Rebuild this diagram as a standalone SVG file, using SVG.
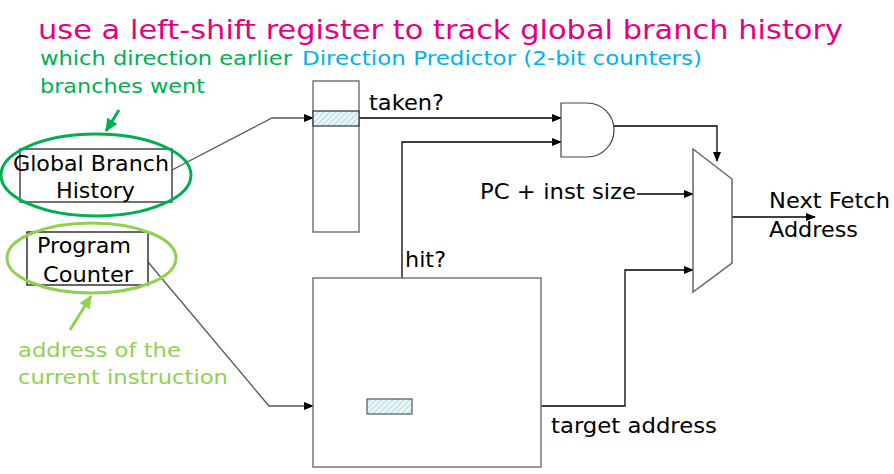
<svg xmlns="http://www.w3.org/2000/svg" width="894" height="474" viewBox="0 0 894 474">
<style>
text{font-family:"DejaVu Sans","Liberation Sans",sans-serif}
.t{fill:#000;font-size:22px}
.box{fill:#fff;stroke:#777;stroke-width:1.5}
.w{fill:none;stroke:#000;stroke-width:1.3}
.g{fill:none;stroke:#555;stroke-width:1.3}
.hat{fill:url(#hatch);stroke:#555;stroke-width:1.2}
</style>
<defs>
<pattern id="hatch" width="4" height="4" patternUnits="userSpaceOnUse" patternTransform="rotate(45)">
<rect width="4" height="4" fill="#e8f6f8"/>
<line x1="0" y1="0" x2="0" y2="4" stroke="#9fd3dc" stroke-width="1.5"/>
</pattern>
<marker id="ah" markerWidth="10" markerHeight="8" refX="9" refY="4" orient="auto" markerUnits="userSpaceOnUse">
<path d="M0,0 L10,4 L0,8 z" fill="#000"/>
</marker>
<marker id="ag" markerWidth="14" markerHeight="12" refX="12" refY="6" orient="auto" markerUnits="userSpaceOnUse">
<path d="M0,0 L13,6 L0,12 z" fill="#00B050"/>
</marker>
<marker id="alg" markerWidth="14" markerHeight="12" refX="12" refY="6" orient="auto" markerUnits="userSpaceOnUse">
<path d="M0,0 L13,6 L0,12 z" fill="#92D050"/>
</marker>
</defs>

<text x="38" y="39" font-size="27" fill="#E6007E" textLength="805" lengthAdjust="spacingAndGlyphs">use a left-shift register to track global branch history</text>
<text x="40" y="65" font-size="20" fill="#00B050" textLength="252" lengthAdjust="spacingAndGlyphs">which direction earlier</text>
<text x="40" y="93" font-size="20" fill="#00B050" textLength="165" lengthAdjust="spacingAndGlyphs">branches went</text>
<text x="302" y="65" font-size="20" fill="#00B0F0" textLength="400" lengthAdjust="spacingAndGlyphs">Direction Predictor (2-bit counters)</text>

<g id="connectors">
<polyline class="g" points="172,170 272,118 313,118" marker-end="url(#ah)"/>
<polyline class="w" points="359,118 561,118" marker-end="url(#ah)"/>
<polyline class="w" points="402,278 402,142 561,142" marker-end="url(#ah)"/>
<polyline class="w" points="614,126 717,126 717,161" marker-end="url(#ah)"/>
<polyline class="w" points="637,194 693,194" marker-end="url(#ah)"/>
<polyline class="w" points="541,406 625,406 625,270 693,270" marker-end="url(#ah)"/>
<polyline class="w" points="732,217 815,217" marker-end="url(#ah)"/>
<polyline class="g" points="148,262 269,406 313,406" marker-end="url(#ah)"/>
<line x1="119" y1="110" x2="106" y2="131" stroke="#00B050" stroke-width="3" marker-end="url(#ag)"/>
<line x1="70" y1="330" x2="91" y2="296" stroke="#92D050" stroke-width="3" marker-end="url(#alg)"/>
</g>

<g id="ghr">
<rect class="box" x="20" y="149" width="152" height="53" style="stroke:#444"/>
<text class="t" x="13" y="171" textLength="156" lengthAdjust="spacingAndGlyphs">Global Branch</text>
<text class="t" x="56" y="198" textLength="79" lengthAdjust="spacingAndGlyphs">History</text>
<ellipse cx="96" cy="175" rx="95" ry="41" fill="none" stroke="#00B050" stroke-width="3"/>
</g>

<g id="pc">
<rect class="box" x="27" y="232" width="121" height="53" style="stroke:#333"/>
<text class="t" x="37" y="253" textLength="94" lengthAdjust="spacingAndGlyphs">Program</text>
<text class="t" x="43" y="282" textLength="90" lengthAdjust="spacingAndGlyphs">Counter</text>
<ellipse cx="91.5" cy="258" rx="84.5" ry="35" fill="none" stroke="#92D050" stroke-width="3"/>
<text x="18" y="357" font-size="20" fill="#92D050" textLength="163" lengthAdjust="spacingAndGlyphs">address of the</text>
<text x="18" y="384" font-size="20" fill="#92D050" textLength="210" lengthAdjust="spacingAndGlyphs">current instruction</text>
</g>

<g id="predictor">
<rect class="box" x="313" y="81" width="46" height="151"/>
<rect class="hat" x="313" y="111" width="46" height="15" style="stroke:#333"/>
<text class="t" x="369" y="110" textLength="75" lengthAdjust="spacingAndGlyphs">taken?</text>
</g>

<g id="and">
<path d="M561,103 H587 A27,27 0 0 1 587,157 H561 Z" fill="#fff" stroke="#444" stroke-width="1.2"/>
</g>

<g id="mux">
<polygon points="693,149 732,179 732,263 693,292" fill="#fff" stroke="#666" stroke-width="1.5"/>
</g>

<g id="btb">
<rect class="box" x="313" y="278" width="228" height="189"/>
<rect class="hat" x="367" y="399" width="45" height="15"/>
<text class="t" x="405" y="267" textLength="41" lengthAdjust="spacingAndGlyphs">hit?</text>
<text class="t" x="551" y="433" textLength="166" lengthAdjust="spacingAndGlyphs">target address</text>
</g>

<text class="t" x="480" y="199" textLength="156" lengthAdjust="spacingAndGlyphs">PC + inst size</text>
<text class="t" x="769" y="208" textLength="121" lengthAdjust="spacingAndGlyphs">Next Fetch</text>
<text class="t" x="769" y="237" textLength="89" lengthAdjust="spacingAndGlyphs">Address</text>
</svg>
